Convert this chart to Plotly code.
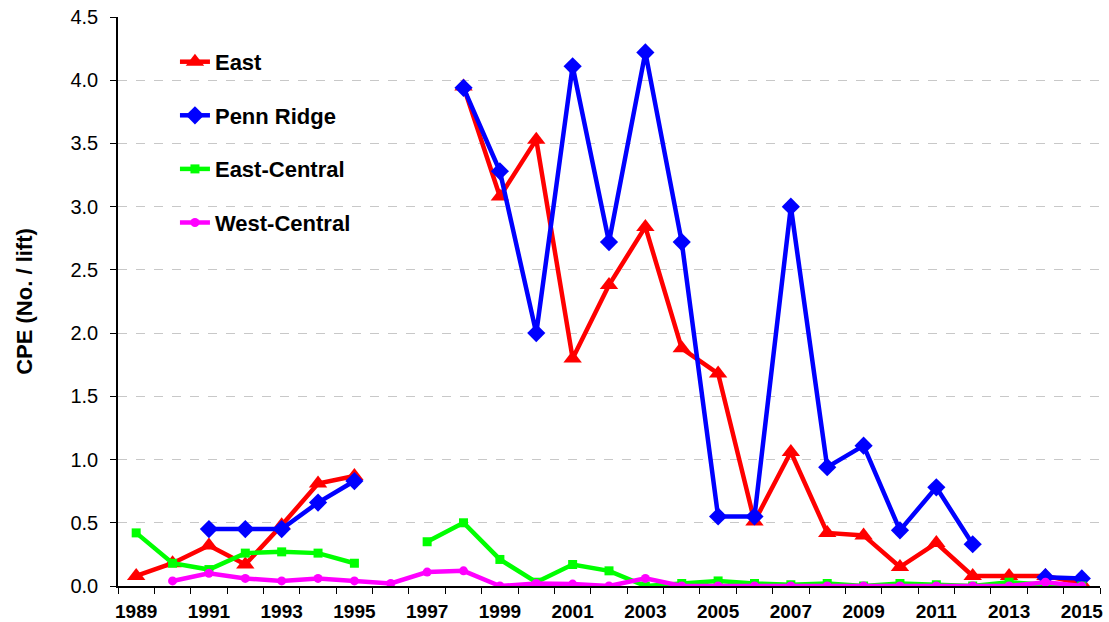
import plotly.graph_objects as go

years = list(range(1989, 2016))

east = [0.08, 0.18, 0.32, 0.17, 0.48, 0.81, 0.87, None, None, 3.95, 3.08, 3.53,
        1.80, 2.38, 2.84, 1.88, 1.68, 0.51, 1.06, 0.42, 0.40, 0.15, 0.34, 0.08,
        0.08, 0.08, 0.02]
penn_ridge = [None, None, 0.45, 0.45, 0.45, 0.66, 0.83, None, None, 3.94, 3.28, 2.00,
              4.11, 2.72, 4.22, 2.72, 0.55, 0.55, 3.00, 0.94, 1.11, 0.44, 0.78, 0.33,
              None, 0.07, 0.06]
east_central = [0.42, 0.18, 0.13, 0.26, 0.27, 0.26, 0.18, None, 0.35, 0.50, 0.21, 0.03,
                0.17, 0.12, 0.00, 0.02, 0.04, 0.02, 0.01, 0.02, 0.00, 0.02, 0.01, 0.00,
                0.03, 0.01, 0.00]
west_central = [None, 0.04, 0.10, 0.06, 0.04, 0.06, 0.04, 0.02, 0.11, 0.12, 0.00, 0.02,
                0.015, 0.00, 0.06, 0.00, 0.00, 0.00, 0.00, 0.00, 0.00, 0.00, 0.00, 0.00,
                0.00, 0.03, 0.00]

label_years = list(range(1989, 2016, 2))
y_ticks = [0.0, 0.5, 1.0, 1.5, 2.0, 2.5, 3.0, 3.5, 4.0, 4.5]

series = [
    ("East", east, "#ff0000", "triangle-up", 16),
    ("Penn Ridge", penn_ridge, "#0000ff", "diamond", 14),
    ("East-Central", east_central, "#00ff00", "square", 9),
    ("West-Central", west_central, "#ff00ff", "circle", 9),
]

fig = go.Figure()
for i, (name, vals, color, sym, size) in enumerate(series):
    fig.add_trace(go.Scatter(
        x=years, y=vals, name=name, mode="lines+markers",
        line=dict(color=color, width=4.5),
        marker=dict(symbol=sym, size=size, color=color),
        connectgaps=False, legendgroup=f"g{i}",
    ))

fig.update_layout(
    width=1109, height=622,
    margin=dict(l=118, r=9, t=17, b=36),
    paper_bgcolor="white", plot_bgcolor="white",
    font=dict(family="Liberation Sans, Arial, sans-serif", color="black"),
    showlegend=True,
    legend=dict(
        x=0.058, y=0.958, xanchor="left", yanchor="top",
        font=dict(size=22, family="Liberation Sans, Arial, sans-serif", weight="bold"),
        bgcolor="rgba(0,0,0,0)", tracegroupgap=22, itemwidth=30,
    ),
    xaxis=dict(
        range=[1988.5, 2015.5], automargin=False,
        tickvals=label_years, ticktext=[str(y) for y in label_years],
        ticks="", showgrid=False, zeroline=False,
        showline=True, linecolor="black", linewidth=1.5,
        tickfont=dict(size=19, weight="bold"), ticklabelstandoff=7,
        minor=dict(tickvals=[y + 0.5 for y in range(1988, 2016)],
                   ticks="outside", ticklen=6, tickcolor="black", showgrid=False),
    ),
    yaxis=dict(
        range=[0, 4.5], tickvals=y_ticks, automargin=False,
        ticktext=[f"{v:.1f}" for v in y_ticks],
        ticks="outside", ticklen=6, tickcolor="black",
        showline=True, linecolor="black", linewidth=1.5,
        showgrid=True, gridcolor="#c8c8c8", griddash="dash", gridwidth=1,
        zeroline=False,
        tickfont=dict(size=20), ticklabelstandoff=8,
        title=dict(text="CPE (No. / lift)", font=dict(size=22, weight="bold"), standoff=32),
    ),
)

fig.write_html("out.html")
